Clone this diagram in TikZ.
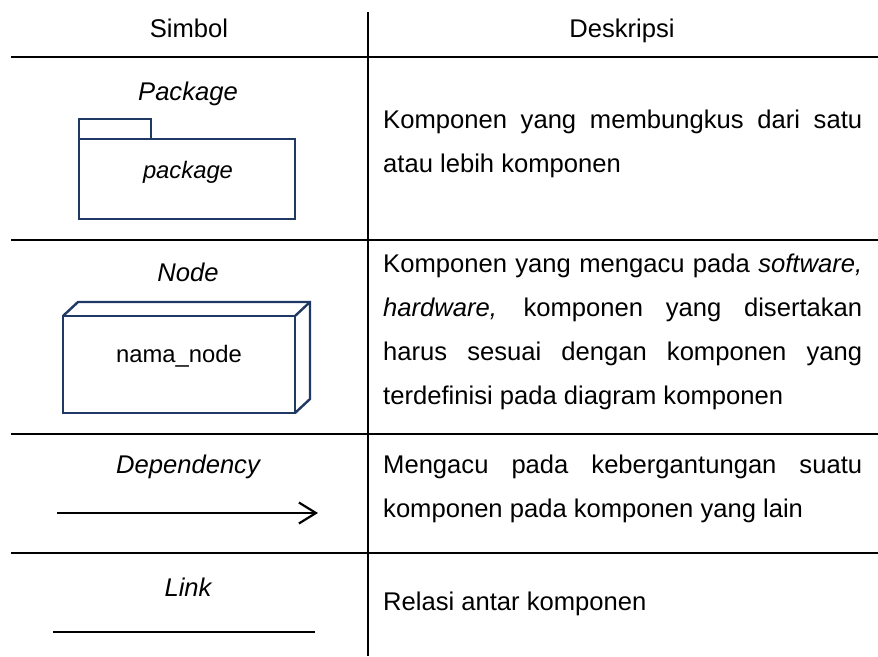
\documentclass[tikz,border=0pt]{standalone}
\usepackage{fontspec}
\setmainfont{Liberation Sans}
\usepackage{xcolor}
\usetikzlibrary{arrows.meta}
\definecolor{umlnavy}{HTML}{1F3864}
\tikzset{
  tblrule/.style={line width=2pt, draw=black},
  hdr/.style={font=\fontsize{25.6}{44}\selectfont, anchor=base, inner sep=0pt},
  symlbl/.style={font=\fontsize{25.6}{44}\selectfont\itshape, anchor=base, inner sep=0pt},
  boxtxt/.style={font=\fontsize{23.8}{28}\selectfont, anchor=base, inner sep=0pt},
  desc/.style={font=\fontsize{25.6}{44}\selectfont, text width=479pt, align=justify, anchor=north west, inner sep=0pt},
  umlbox/.style={draw=umlnavy, line width=2.4pt, fill=white, inner sep=0pt, outer sep=0pt},
  umlline/.style={draw=umlnavy, line width=2.4pt, line join=miter},
  dependarr/.style={-{Straight Barb[length=17pt,width=21pt]}, line width=2.2pt, draw=black},
  linkline/.style={line width=2.2pt, draw=black},
}
\begin{document}
\begin{tikzpicture}[x=1pt, y=-1pt]
  \useasboundingbox (0,0) rectangle (878,656);
  \coordinate (vtop) at (368,12);
  \coordinate (vbot) at (368,656);
  \draw[tblrule] (vtop) -- (vbot);
  \foreach \yy/\nm in {57/hA,240/hB,434/hC,553/hD}{
    \coordinate (\nm-l) at (11,\yy);
    \coordinate (\nm-r) at (878,\yy);
    \draw[tblrule] (\nm-l) -- (\nm-r);
  }
  \node[hdr] (simbol) at (189,37) {Simbol};
  \node[hdr] (deskripsi) at (622,37) {Deskripsi};
  \node[symlbl] (pkglbl) at (188,100) {Package};
  \node[umlbox, minimum width=216pt, minimum height=80pt] (pkgbody) at (187,179) {};
  \node[umlbox, anchor=south west, minimum width=72pt, minimum height=20pt] (pkgtab) at (pkgbody.north west) {};
  \node[boxtxt] (pkgname) at (188,178) {\itshape package};
  \node[symlbl] (nodelbl) at (188,281) {Node};
  \node[umlbox, minimum width=232pt, minimum height=97pt] (nodefront) at (179,364.5) {};
  \draw[umlline] (nodefront.north west) -- ++(15,-14) -- ++(232,0) -- ++(0,97) -- (nodefront.south east);
  \draw[umlline] (nodefront.north east) -- ++(15,-14);
  \node[boxtxt] (nodename) at (179,362) {nama\_node};
  \node[symlbl] (deplbl) at (188,473) {Dependency};
  \coordinate (dep-a) at (57,513);
  \coordinate (dep-b) at (318,513);
  \draw[dependarr] (dep-a) -- (dep-b);
  \node[symlbl] (linklbl) at (188,596) {Link};
  \coordinate (link-a) at (53,632);
  \coordinate (link-b) at (315,632);
  \draw[linkline] (link-a) -- (link-b);
  \node[desc] (descpkg) at (383,110) {Komponen yang membungkus dari satu\linebreak atau lebih komponen};
  \node[desc] (descnode) at (383,254) {Komponen yang mengacu pada \textit{software,}\linebreak \textit{hardware,} komponen yang disertakan\linebreak harus sesuai dengan komponen yang\linebreak terdefinisi pada diagram komponen};
  \node[desc] (descdep) at (383,455) {Mengacu pada kebergantungan suatu\linebreak komponen pada komponen yang lain};
  \node[desc] (desclink) at (383,592) {Relasi antar komponen};
\end{tikzpicture}
\end{document}
